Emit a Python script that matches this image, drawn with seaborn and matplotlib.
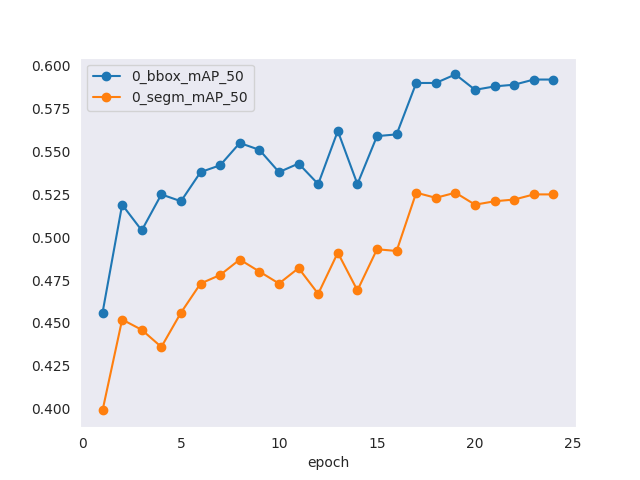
import matplotlib
matplotlib.use("Agg")
import matplotlib.pyplot as plt
import seaborn as sns

# per-epoch validation metrics
epochs = list(range(1, 25))
bbox_map50 = [0.456, 0.519, 0.504, 0.525, 0.521, 0.538, 0.542, 0.555, 0.551, 0.538,
              0.543, 0.531, 0.562, 0.531, 0.559, 0.560, 0.590, 0.590, 0.595, 0.586,
              0.588, 0.589, 0.592, 0.592]
segm_map50 = [0.399, 0.452, 0.446, 0.436, 0.456, 0.473, 0.478, 0.487, 0.480, 0.473,
              0.482, 0.467, 0.491, 0.469, 0.493, 0.492, 0.526, 0.523, 0.526, 0.519,
              0.521, 0.522, 0.525, 0.525]

sns.set_style("dark")
plt.rcParams["font.family"] = ["DejaVu Sans"]

fig, ax = plt.subplots(figsize=(6.4, 4.8), dpi=100)
for vals, name, col in [(bbox_map50, "0_bbox_mAP_50", "#1f77b4"),
                        (segm_map50, "0_segm_mAP_50", "#ff7f0e")]:
    sns.lineplot(x=epochs, y=vals, ax=ax, label=name, color=col,
                 marker="o", markersize=6, markeredgecolor=col,
                 markeredgewidth=1, linewidth=1.5)

ax.set_xticks([0, 5, 10, 15, 20, 25])
ax.set_xlabel("epoch")
ax.set_ylabel("")
ax.legend(loc="upper left")
fig.savefig("out.png", dpi=100)
